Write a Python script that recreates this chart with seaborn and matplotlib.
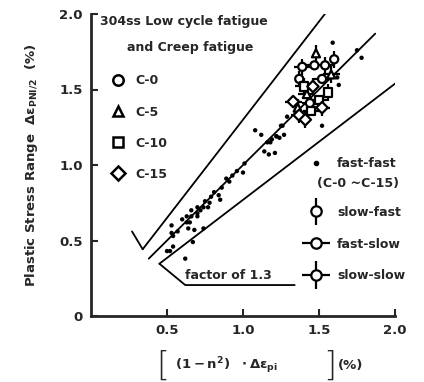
import numpy as np
import pandas as pd
import matplotlib
matplotlib.use("Agg")
import matplotlib.pyplot as plt
import seaborn as sns
from matplotlib.lines import Line2D
from matplotlib.legend_handler import HandlerErrorbar

# ---------------- data ----------------
# fast-fast (C-0 ~ C-15) small dots
ff_x = [0.50, 0.52, 0.53, 0.53, 0.54, 0.54, 0.62, 0.63, 0.63, 0.64, 0.65, 0.66, 0.66,
        0.67, 0.68, 0.70, 0.70, 0.70, 0.74, 0.74, 0.75, 0.77, 0.78, 0.79, 0.84, 0.85,
        0.86, 0.89, 0.91, 0.96, 1.00, 1.01, 1.08, 1.12, 1.14, 1.16, 1.17, 1.18, 1.19,
        1.21, 1.22, 1.22, 1.24, 1.25, 1.26, 1.27, 1.29, 1.52, 1.59, 1.62, 1.63, 1.75,
        1.78, 0.57, 0.60, 0.72, 0.81, 0.93]
ff_y = [0.43, 0.43, 0.60, 0.55, 0.53, 0.46, 0.38, 0.66, 0.62, 0.58, 0.62, 0.70, 0.66,
        0.49, 0.57, 0.72, 0.68, 0.66, 0.58, 0.72, 0.76, 0.72, 0.75, 0.79, 0.80, 0.77,
        0.85, 0.91, 0.89, 0.96, 0.95, 1.01, 1.23, 1.20, 1.09, 1.15, 1.07, 1.15, 1.17,
        1.08, 1.19, 1.19, 1.18, 1.26, 1.26, 1.20, 1.32, 1.26, 1.81, 1.58, 1.53, 1.76,
        1.71, 0.56, 0.64, 0.70, 0.82, 0.93]

# creep-fatigue (open markers with scatter bars)
cl_x = [1.39, 1.47, 1.54, 1.37, 1.52, 1.44, 1.60,
        1.48, 1.58, 1.42, 1.36,
        1.50, 1.40, 1.56, 1.45,
        1.46, 1.37, 1.33, 1.41, 1.52]
cl_y = [1.65, 1.66, 1.66, 1.57, 1.57, 1.41, 1.70,
        1.74, 1.60, 1.47, 1.38,
        1.43, 1.52, 1.48, 1.36,
        1.52, 1.33, 1.42, 1.30, 1.38]
cl_series = ["C-0"] * 7 + ["C-5"] * 4 + ["C-10"] * 4 + ["C-15"] * 5
cl_cond = ["slow-slow", "fast-slow", "slow-slow", "slow-fast", "fast-slow", "slow-slow", "slow-fast",
           "slow-fast", "slow-slow", "fast-slow", "slow-fast",
           "fast-slow", "slow-slow", "slow-fast", "fast-slow",
           "slow-fast", "slow-slow", "fast-slow", "slow-fast", "slow-slow"]

series_names = ["C-0", "C-5", "C-10", "C-15"]
series_markers = ["o", "^", "s", "D"]
cond_names = ["slow-fast", "fast-slow", "slow-slow"]

band_factor = 1.3
center_x = [0.38, 1.87]
upper_x = [0.34, 1.54]
lower_x = [0.45, 2.07]

x_ticks = [0.5, 1.0, 1.5, 2.0]
x_ticklabels = ["0.5", "1.0", "1.5", "2.0"]
y_ticks = [0, 0.5, 1.0, 1.5, 2.0]
y_ticklabels = ["0", "0.5", "1.0", "1.5", "2.0"]

# ---------------- style ----------------
sns.set_theme(style="ticks")
plt.rcParams["font.family"] = ["DejaVu Sans"]
plt.rcParams["font.weight"] = "bold"
plt.rcParams["mathtext.fontset"] = "dejavusans"
plt.rcParams["mathtext.default"] = "bf"

W, H = 424, 382
fig = plt.figure(figsize=(W / 100, H / 100), dpi=100)
ax = fig.add_axes([91 / W, 1 - 316 / H, 304 / W, 302 / H])

FS = 9
lw = 1.3

# band lines
ax.plot(center_x, center_x, color="black", lw=lw)
ax.plot(upper_x, [v * band_factor for v in upper_x], color="black", lw=lw)
ax.plot(lower_x, [v / band_factor for v in lower_x], color="black", lw=lw)
# factor leaders
ax.plot([0.27, upper_x[0]], [0.56, upper_x[0] * band_factor], color="black", lw=lw)
ax.plot([lower_x[0], 0.62, 1.34], [lower_x[0] / band_factor, 0.205, 0.205], color="black", lw=lw)
ax.text(0.62, 0.225, "factor of 1.3", fontsize=FS, fontweight="bold", ha="left", va="bottom")

# fast-fast dots
ff = pd.DataFrame({"x": ff_x, "y": ff_y})
sns.scatterplot(data=ff, x="x", y="y", ax=ax, s=10, color="black", edgecolor="none",
                legend=False, zorder=3)

# open markers with scatter bars
cl = pd.DataFrame({"x": cl_x, "y": cl_y, "series": cl_series, "cond": cl_cond})
bar = 0.055
for cond in cond_names:
    sub = cl[cl["cond"] == cond]
    xerr = bar if cond in ("fast-slow", "slow-slow") else None
    yerr = bar if cond in ("slow-fast", "slow-slow") else None
    ax.errorbar(sub["x"], sub["y"], xerr=xerr, yerr=yerr, fmt="none",
                ecolor="black", elinewidth=1.6, capsize=0, zorder=4)
sns.scatterplot(data=cl, x="x", y="y", style="series", style_order=series_names,
                markers=dict(zip(series_names, series_markers)), ax=ax, s=34,
                color="white", edgecolor="black", linewidth=1.6, legend=False, zorder=5)

# ---------------- axes ----------------
ax.set_xlim(0, 2.0)
ax.set_ylim(0, 2.0)
ax.set_xticks(x_ticks)
ax.set_xticklabels(x_ticklabels)
ax.set_yticks(y_ticks)
ax.set_yticklabels(y_ticklabels)
ax.tick_params(direction="in", length=5, width=1.5, labelsize=FS + 0.5, pad=6)
for t in ax.get_xticklabels() + ax.get_yticklabels():
    t.set_fontweight("bold")
sns.despine(ax=ax)
for s in ["left", "bottom"]:
    ax.spines[s].set_linewidth(2.0)
ax.set_xlabel("")
ax.set_ylabel(r"Plastic Stress Range  $\Delta\varepsilon_{PNI/2}$  (%)", fontsize=FS + 0.5,
              fontweight="bold", labelpad=14)

# x label with large brackets
yl = 1 - 366 / H
fig.text(163 / W, yl, "[", fontsize=24, fontweight="light", ha="center", va="center")
fig.text(175 / W, yl, r"$(1-n^2)\ \ \cdot\Delta\varepsilon_{pi}$", fontsize=FS + 0.5,
         ha="left", va="center")
fig.text(330 / W, yl, "]", fontsize=24, fontweight="light", ha="center", va="center")
fig.text(338 / W, yl, "(%)", fontsize=FS + 0.5, fontweight="bold", ha="left", va="center")

# ---------------- title block & legends ----------------
ax.text(0.06, 1.95, "304ss Low cycle fatigue", fontsize=FS, fontweight="bold",
        ha="left", va="center")
ax.text(0.24, 1.78, "and Creep fatigue", fontsize=FS, fontweight="bold",
        ha="left", va="center")

h1 = [Line2D([], [], ls="none", marker=m, ms=7.5, mfc="white", mec="black", mew=1.8)
      for m in series_markers]
leg1 = ax.legend(h1, series_names, loc="upper left", bbox_to_anchor=(0.064, 0.80),
                 frameon=False, fontsize=FS, handlelength=1.2, handletextpad=0.8,
                 labelspacing=1.45, borderaxespad=0, borderpad=0)
for t in leg1.get_texts():
    t.set_fontweight("bold")
ax.add_artist(leg1)

h2 = [Line2D([], [], ls="none", marker="o", ms=3, mfc="black", mec="black")]
leg2 = ax.legend(h2, ["fast-fast"], loc="upper left", bbox_to_anchor=(0.69, 0.525),
                 frameon=False, fontsize=FS, handlelength=2.4, handletextpad=0.5,
                 borderaxespad=0, borderpad=0)
for t in leg2.get_texts():
    t.set_fontweight("bold")
ax.add_artist(leg2)
ax.text(1.49, 0.88, "(C-0 ~C-15)", fontsize=FS, fontweight="bold", ha="left", va="center")

h3 = []
for cond in cond_names:
    xe = [0.1] if cond in ("fast-slow", "slow-slow") else None
    ye = [0.1] if cond in ("slow-fast", "slow-slow") else None
    e = ax.errorbar([np.nan], [np.nan], xerr=xe, yerr=ye, fmt="o", ms=7.5, mfc="white",
                    mec="black", mew=1.6, ecolor="black", elinewidth=1.6, capsize=0)
    h3.append(e)
leg3 = ax.legend(h3, cond_names, loc="upper left", bbox_to_anchor=(0.69, 0.365),
                 frameon=False, fontsize=FS, handlelength=2.4, handletextpad=0.5,
                 labelspacing=1.5, borderaxespad=0, borderpad=0,
                 handler_map={type(h3[0]): HandlerErrorbar(xerr_size=1.1)})
for t in leg3.get_texts():
    t.set_fontweight("bold")

fig.savefig("out.png", dpi=100)
